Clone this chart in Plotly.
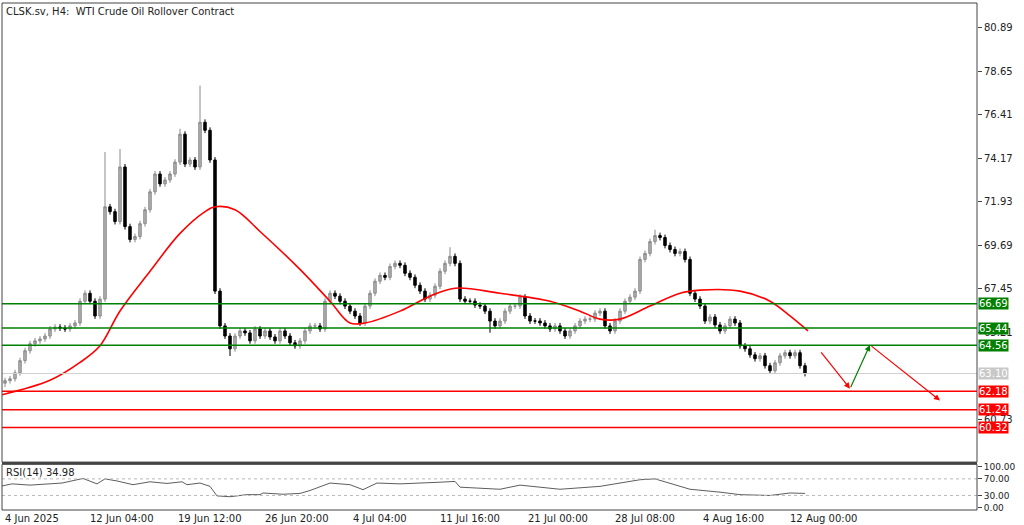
import plotly.graph_objects as go

closes = [62.73,62.83,63.14,63.76,64.27,64.63,64.78,64.88,65.03,65.39,65.49,65.44,65.39,65.55,65.70,66.82,67.23,66.82,66.06,66.93,
71.68,71.43,70.92,73.73,70.66,70.00,70.15,70.81,71.53,72.45,73.37,72.86,73.06,73.37,73.98,75.42,73.88,74.09,73.73,76.03,
75.62,74.09,67.34,65.55,65.03,64.37,65.03,65.29,65.19,64.78,65.39,65.03,65.29,64.98,64.78,65.29,65.03,64.68,64.52,64.78,
65.29,65.55,65.55,65.39,66.82,67.23,67.08,66.82,66.57,66.31,66.06,65.70,66.57,67.23,67.85,68.15,68.05,68.61,68.77,68.67,
68.26,68.05,67.64,67.34,66.93,67.13,67.59,68.36,68.77,69.13,68.77,66.93,66.82,66.82,66.62,66.57,66.31,65.80,65.55,65.80,
66.31,66.57,66.57,67.03,66.06,65.80,65.80,65.70,65.55,65.39,65.55,65.29,65.03,65.29,65.55,65.80,65.90,65.90,66.21,66.31,
65.55,65.29,65.80,66.31,66.82,67.03,67.34,68.97,69.28,69.89,70.20,70.10,69.69,69.48,69.28,69.38,68.97,67.23,66.93,66.57,
65.80,66.01,65.60,65.29,65.55,65.90,65.70,64.52,64.37,64.06,63.86,64.01,63.50,63.24,63.65,64.01,64.17,64.01,64.17,63.50,63.10]
first_open = 62.60
spike_highs = {23: 74.65, 20: 74.50, 39: 77.92, 89: 69.60, 130: 70.50, 35: 75.70}
spike_lows = {45: 64.00, 0: 62.40, 97: 65.20}

ma_x = [-1, 9, 15, 19, 23, 29, 35, 40, 42, 46, 51, 59, 65, 69, 72, 79, 85, 90, 99, 109, 115, 119, 123, 129, 135, 139, 147, 153, 157, 160.6]
ma_y = [61.98, 62.75, 63.67, 64.53, 66.32, 68.36, 70.31, 71.43, 71.68, 71.53, 70.41, 68.46, 66.82, 65.70, 65.70, 66.31, 67.08, 67.49, 67.23, 66.82, 66.31, 65.90, 65.90, 66.57, 67.23, 67.39, 67.34, 66.82, 66.06, 65.29]

rsi_x = [-1, 1.4, 5, 11.4, 15.6, 18.4, 20, 22.4, 25.6, 29, 32.4, 35.4, 36.4, 39, 41, 42.4, 45, 48.4, 51, 51.6, 55.6, 59, 61, 65, 69, 71.6, 74.4, 79, 87, 90, 91, 99, 103, 111, 119, 127, 130, 137, 143, 147, 153, 157, 160]
rsi_y = [52, 58, 55, 60, 71, 58, 70, 65, 56, 63, 59, 63, 56, 60, 52, 29, 27, 32, 32, 36, 33, 35, 42, 60, 56, 44, 60, 58, 62, 64, 50, 45, 55, 45, 52, 68, 70, 45, 38, 32, 30, 36, 34.98]

green_levels = [66.69, 65.44, 64.56]
red_levels = [62.18, 61.24, 60.32]
last_price = 63.10
price_ticks = [80.89, 78.65, 76.41, 74.17, 71.93, 69.69, 67.45, 65.21, 60.73]
time_tick_pos = [0, 17, 34.6, 52, 69.6, 87, 104.6, 122, 139.6, 157]
time_tick_labels = ["4 Jun 2025", "12 Jun 04:00", "19 Jun 12:00", "26 Jun 20:00", "4 Jul 04:00",
                    "11 Jul 16:00", "21 Jul 00:00", "28 Jul 08:00", "4 Aug 16:00", "12 Aug 00:00"]
proj_x = [163, 169, 173, 187]
proj_y = [64.27, 62.32, 64.57, 61.71]

n = len(closes)
opens = [first_open] + closes[:-1]
highs = [spike_highs.get(i, max(o, c) + 0.15) for i, (o, c) in enumerate(zip(opens, closes))]
lows = [spike_lows.get(i, min(o, c) - 0.15) for i, (o, c) in enumerate(zip(opens, closes))]

fig = go.Figure()
fig.add_trace(go.Candlestick(x=list(range(n)), open=opens, high=highs, low=lows, close=closes,
    increasing=dict(line=dict(color="#8a8a8a", width=1), fillcolor="#b0b0b0"),
    decreasing=dict(line=dict(color="#000000", width=1), fillcolor="#000000"),
    whiskerwidth=0, showlegend=False, xaxis="x", yaxis="y"))
fig.add_trace(go.Scatter(x=ma_x, y=ma_y, mode="lines", line=dict(color="#ff0000", width=1.6, shape="spline"),
                         showlegend=False, xaxis="x", yaxis="y"))
fig.add_trace(go.Scatter(x=rsi_x, y=rsi_y, mode="lines", line=dict(color="#333333", width=0.8),
                         showlegend=False, xaxis="x", yaxis="y2"))

xr = [-0.6, 194.4]
for lv in green_levels:
    fig.add_shape(type="line", xref="x", yref="y", x0=xr[0], x1=xr[1], y0=lv, y1=lv, line=dict(color="#008000", width=1.5))
for lv in red_levels:
    fig.add_shape(type="line", xref="x", yref="y", x0=xr[0], x1=xr[1], y0=lv, y1=lv, line=dict(color="#ff0000", width=1.5))
fig.add_shape(type="line", xref="x", yref="y", x0=xr[0], x1=xr[1], y0=last_price, y1=last_price, line=dict(color="#d0d0d0", width=1))
for lv in [70, 30]:
    fig.add_shape(type="line", xref="x", yref="y2", x0=xr[0], x1=xr[1], y0=lv, y1=lv, line=dict(color="#bbbbbb", width=1, dash="dot"))
fig.add_shape(type="rect", xref="paper", yref="paper", x0=0, x1=1, y0=0.0945, y1=1, line=dict(color="#444444", width=1))
fig.add_shape(type="rect", xref="paper", yref="paper", x0=0, x1=1, y0=0, y1=0.09, line=dict(color="#444444", width=1))
fig.add_shape(type="line", xref="paper", yref="paper", x0=0, x1=1, y0=0.0925, y1=0.0925, line=dict(color="#444444", width=2))

for lv, col in [(v, "#008000") for v in green_levels] + [(v, "#ff0000") for v in red_levels] + [(last_price, "#c8c8c8")]:
    fig.add_annotation(x=1, xref="paper", y=lv, yref="y", text=f"{lv:.2f}", showarrow=False, xanchor="left", xshift=1,
                       bgcolor=col, font=dict(color="white", size=10, family="DejaVu Sans"), borderpad=0)

cols = ["#ff0000", "#008000", "#ff0000"]
for i in range(3):
    fig.add_annotation(x=proj_x[i + 1], y=proj_y[i + 1], ax=proj_x[i], ay=proj_y[i], xref="x", yref="y", axref="x", ayref="y",
                       showarrow=True, arrowhead=2, arrowsize=1, arrowwidth=1.2, arrowcolor=cols[i], text="")

for p, t in zip(time_tick_pos, time_tick_labels):
    fig.add_annotation(x=p, xref="x", y=0, yref="paper", yanchor="top", xanchor="left", text=t, showarrow=False,
                       font=dict(size=10, color="#222", family="DejaVu Sans"), yshift=-1, xshift=-2)

fig.add_annotation(x=0.002, xref="paper", y=1, yref="paper", text="CLSK.sv, H4:  WTI Crude Oil Rollover Contract", showarrow=False,
                   xanchor="left", yanchor="top", font=dict(size=10, color="#222", family="DejaVu Sans"), yshift=-1)
fig.add_annotation(x=0.002, xref="paper", y=0.088, yref="paper", text="RSI(14) 34.98", showarrow=False,
                   xanchor="left", yanchor="top", font=dict(size=10, color="#222", family="DejaVu Sans"))

fig.update_layout(
    width=1024, height=525, margin=dict(l=2, r=47, t=0, b=15),
    paper_bgcolor="white", plot_bgcolor="white",
    xaxis=dict(range=xr, showgrid=False, showticklabels=False, rangeslider=dict(visible=False), zeroline=False,
               showline=False, ticks=""),
    yaxis=dict(domain=[0.0945, 1], range=[58.54, 82.17], side="right", tickvals=price_ticks,
               ticktext=[f"{v:.2f}" for v in price_ticks], ticks="outside", ticklen=4, showgrid=False, zeroline=False,
               showline=False, tickfont=dict(size=10, color="#222", family="DejaVu Sans")),
    yaxis2=dict(domain=[0, 0.09], range=[-5, 105], side="right", tickvals=[100, 70, 30, 0],
                ticktext=["100.00", "70.00", "30.00", "0.00"], ticks="outside", ticklen=4, showgrid=False, zeroline=False,
                showline=False, tickfont=dict(size=9, color="#222", family="DejaVu Sans")),
)
fig.write_html("out.html", config={"displayModeBar": False},
               post_script="document.body.style.margin='0';document.body.style.overflow='hidden';")
